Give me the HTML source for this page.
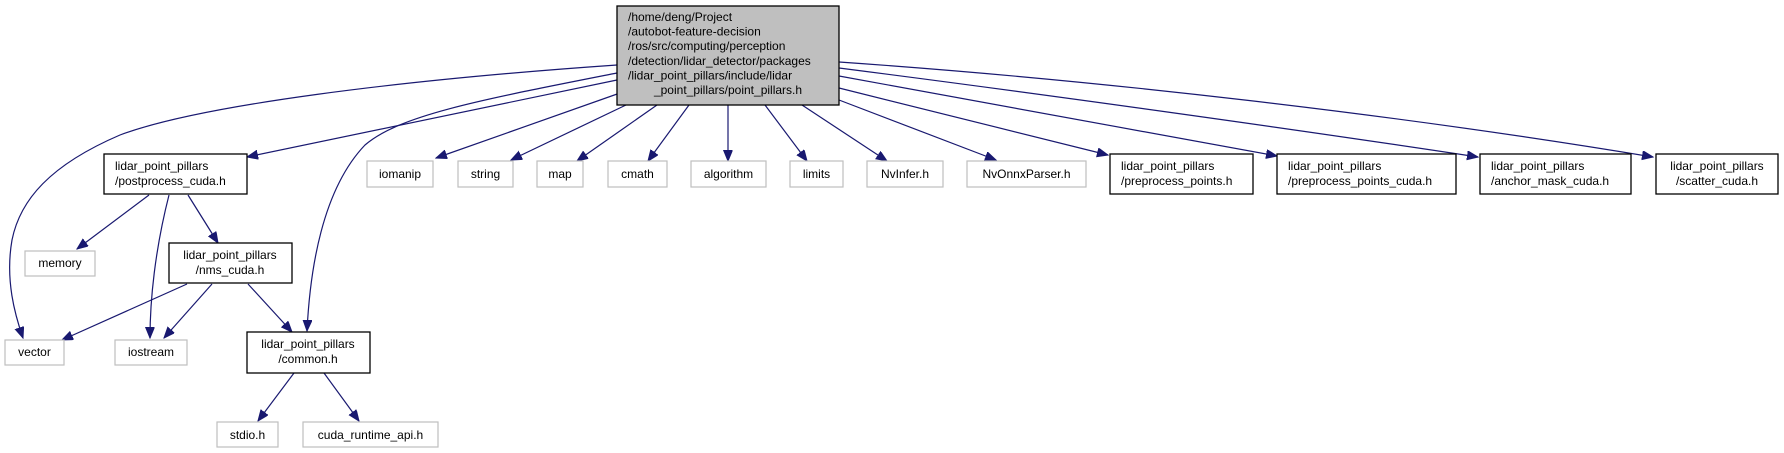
<!DOCTYPE html>
<html><head><meta charset="utf-8"><style>
html,body{margin:0;padding:0;background:#fff;}
svg{display:block;}
text{font-family:"Liberation Sans",sans-serif;font-size:12px;fill:#000;}
.b{fill:#fff;stroke:#000;stroke-width:1.3;}
.g{fill:#fff;stroke:#bfbfbf;stroke-width:1.2;}
.e{fill:none;stroke:#191970;stroke-width:1.2;marker-end:url(#a);}
</style></head><body>
<svg width="1784" height="453" viewBox="0 0 1784 453" xmlns="http://www.w3.org/2000/svg">
<defs><marker id="a" markerUnits="userSpaceOnUse" markerWidth="12" markerHeight="10" refX="11" refY="4.5" orient="auto"><path d="M0,0 L11,4.5 L0,9 z" fill="#191970" stroke="#191970"/></marker></defs>

<path class="e" d="M617,65 C400,80 200,105 120,135 C50,165 20,200 12,240 C5,280 15,315 23,338"/>
<path class="e" d="M617,80 L247,157"/>
<path class="e" d="M617,73 C480,100 400,115 365,145 C322,190 310,270 307,331"/>
<path class="e" d="M620,93 L436,158"/>
<path class="e" d="M626,105 L511,160"/>
<path class="e" d="M657,105 L577,161"/>
<path class="e" d="M689,105 L648,161"/>
<path class="e" d="M728,105 L728,161"/>
<path class="e" d="M765,105 L807,161"/>
<path class="e" d="M802,105 L887,161"/>
<path class="e" d="M839,100 L996,160"/>
<path class="e" d="M839,88 L1108,155"/>
<path class="e" d="M839,76 L1277,156"/>
<path class="e" d="M839,68 C1050,95 1300,130 1478,157"/>
<path class="e" d="M839,62 C1100,80 1400,115 1653,157"/>
<path class="e" d="M149,195 L77,249"/>
<path class="e" d="M169,195 C155,250 150,300 150,338"/>
<path class="e" d="M188,195 L218,243"/>
<path class="e" d="M187,284 L62,340"/>
<path class="e" d="M212,284 L164,338"/>
<path class="e" d="M248,284 L292,332"/>
<path class="e" d="M294,373 L258,421"/>
<path class="e" d="M324,373 L359,421"/>

<rect x="617" y="6" width="222" height="99" fill="#bfbfbf" stroke="#000" stroke-width="1.3"/>
<text x="628" y="21">/home/deng/Project</text>
<text x="628" y="35.6">/autobot-feature-decision</text>
<text x="628" y="50.2">/ros/src/computing/perception</text>
<text x="628" y="64.8">/detection/lidar_detector/packages</text>
<text x="628" y="79.4">/lidar_point_pillars/include/lidar</text>
<text x="728" y="94" text-anchor="middle">_point_pillars/point_pillars.h</text>

<rect class="b" x="104" y="154" width="143" height="40"/>
<text x="115" y="170">lidar_point_pillars</text><text x="115" y="185">/postprocess_cuda.h</text>
<rect class="b" x="169" y="243" width="123" height="40"/>
<text x="230" y="259" text-anchor="middle">lidar_point_pillars</text><text x="230" y="274" text-anchor="middle">/nms_cuda.h</text>
<rect class="b" x="247" y="332" width="123" height="41"/>
<text x="308" y="348" text-anchor="middle">lidar_point_pillars</text><text x="308" y="363" text-anchor="middle">/common.h</text>
<rect class="b" x="1110" y="154" width="143" height="40"/>
<text x="1121" y="170">lidar_point_pillars</text><text x="1121" y="185">/preprocess_points.h</text>
<rect class="b" x="1277" y="154" width="179" height="40"/>
<text x="1288" y="170">lidar_point_pillars</text><text x="1288" y="185">/preprocess_points_cuda.h</text>
<rect class="b" x="1480" y="154" width="151" height="40"/>
<text x="1491" y="170">lidar_point_pillars</text><text x="1491" y="185">/anchor_mask_cuda.h</text>
<rect class="b" x="1656" y="154" width="122" height="40"/>
<text x="1717" y="170" text-anchor="middle">lidar_point_pillars</text><text x="1717" y="185" text-anchor="middle">/scatter_cuda.h</text>

<rect class="g" x="367" y="161" width="66" height="26"/><text x="400" y="178" text-anchor="middle">iomanip</text>
<rect class="g" x="458" y="161" width="55" height="26"/><text x="485.5" y="178" text-anchor="middle">string</text>
<rect class="g" x="537" y="161" width="46" height="26"/><text x="560" y="178" text-anchor="middle">map</text>
<rect class="g" x="608" y="161" width="59" height="26"/><text x="637.5" y="178" text-anchor="middle">cmath</text>
<rect class="g" x="691" y="161" width="75" height="26"/><text x="728.5" y="178" text-anchor="middle">algorithm</text>
<rect class="g" x="790" y="161" width="53" height="26"/><text x="816.5" y="178" text-anchor="middle">limits</text>
<rect class="g" x="867" y="161" width="76" height="26"/><text x="905" y="178" text-anchor="middle">NvInfer.h</text>
<rect class="g" x="967" y="161" width="119" height="26"/><text x="1026.5" y="178" text-anchor="middle">NvOnnxParser.h</text>
<rect class="g" x="25" y="251" width="70" height="25"/><text x="60" y="267" text-anchor="middle">memory</text>
<rect class="g" x="5" y="340" width="59" height="25"/><text x="34.5" y="356" text-anchor="middle">vector</text>
<rect class="g" x="115" y="340" width="72" height="25"/><text x="151" y="356" text-anchor="middle">iostream</text>
<rect class="g" x="217" y="422" width="61" height="25"/><text x="247.5" y="439" text-anchor="middle">stdio.h</text>
<rect class="g" x="303" y="422" width="135" height="25"/><text x="370.5" y="439" text-anchor="middle">cuda_runtime_api.h</text>
</svg>
</body></html>
